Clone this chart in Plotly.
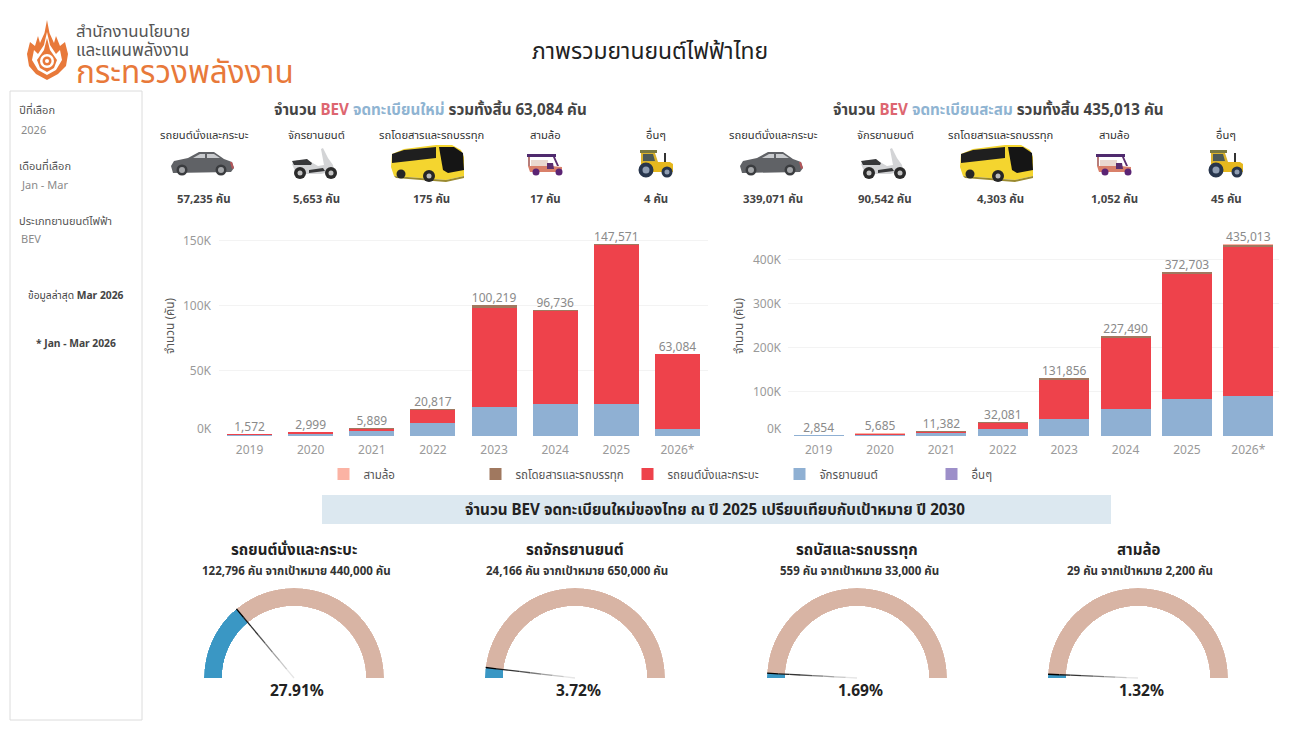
import math
import plotly.graph_objects as go

W, H = 1299, 730
FONT = "Noto Sans, Noto Sans Thai, sans-serif"

years = ["2019", "2020", "2021", "2022", "2023", "2024", "2025", "2026*"]
series_names = ["อื่นๆ", "จักรยานยนต์", "รถยนต์นั่งและกระบะ", "รถโดยสารและรถบรรทุก", "สามล้อ"]
series_colors = ["#9D8FC9", "#8FB0D3", "#EE424B", "#A0785F", "#FBB3A4"]
legend_ranks = [5, 4, 3, 2, 1]

new_other = [2, 1, 2, 2, 4, 3, 21, 4]
new_moto = [900, 1700, 3600, 10200, 22000, 24800, 24166, 5653]
new_car = [500, 1150, 1950, 10100, 76200, 71300, 122796, 57235]
new_bus = [170, 140, 320, 500, 2000, 620, 559, 175]
new_tuk = [0, 8, 17, 15, 15, 13, 29, 17]
new_total = [1572, 2999, 5889, 20817, 100219, 96736, 147571, 63084]

cum_other = [4, 5, 12, 10, 15, 20, 41, 45]
cum_moto = [1200, 2900, 6500, 17000, 38000, 60700, 84889, 90542]
cum_car = [1100, 1900, 3400, 13071, 89891, 162195, 282610, 339071]
cum_bus = [250, 400, 700, 1100, 3000, 3569, 4128, 4303]
cum_tuk = [300, 480, 770, 900, 950, 1006, 1035, 1052]
cum_total = [2854, 5685, 11382, 32081, 131856, 227490, 372703, 435013]

gauge_titles = ["รถยนต์นั่งและกระบะ", "รถจักรยานยนต์", "รถบัสและรถบรรทุก", "สามล้อ"]
gauge_subs = ["122,796 คัน จากเป้าหมาย 440,000 คัน", "24,166 คัน จากเป้าหมาย 650,000 คัน",
              "559 คัน จากเป้าหมาย 33,000 คัน", "29 คัน จากเป้าหมาย 2,200 คัน"]
gauge_pct = [27.91, 3.72, 1.69, 1.32]
gauge_cx = [294, 575, 857, 1138]

kpi_names = ["รถยนต์นั่งและกระบะ", "จักรยานยนต์", "รถโดยสารและรถบรรทุก", "สามล้อ", "อื่นๆ"]
kpi_new = ["57,235 คัน", "5,653 คัน", "175 คัน", "17 คัน", "4 คัน"]
kpi_cum = ["339,071 คัน", "90,542 คัน", "4,303 คัน", "1,052 คัน", "45 คัน"]
kpi_x_new = [204, 316, 431, 545, 656]
kpi_x_cum = [773, 885, 1000, 1114, 1226]


def px(x): return x / W
def py(y): return 1 - y / H


fig = go.Figure()
for name, color, rank, nv, cv in zip(series_names, series_colors, legend_ranks,
                                     [new_other, new_moto, new_car, new_bus, new_tuk],
                                     [cum_other, cum_moto, cum_car, cum_bus, cum_tuk]):
    fig.add_bar(x=years, y=nv, name=name, marker_color=color, marker_line_width=0, width=0.735,
                legendrank=rank, xaxis="x", yaxis="y", hoverinfo="skip")
    fig.add_bar(x=years, y=cv, name=name, marker_color=color, marker_line_width=0, width=0.814,
                showlegend=False, xaxis="x2", yaxis="y2", hoverinfo="skip")

for xa, ya, tot in [("x", "y", new_total), ("x2", "y2", cum_total)]:
    fig.add_scatter(x=years, y=tot, mode="text", text=[f"{v:,}" for v in tot],
                    textposition="top center", textfont=dict(size=12, color="#8a8a8a", family=FONT),
                    showlegend=False, xaxis=xa, yaxis=ya, hoverinfo="skip", cliponaxis=False)

axis_common = dict(showline=False, zeroline=False, tickfont=dict(size=12, color="#9a9a9a", family=FONT),
                   fixedrange=True)
layout = dict(
    width=W, height=H, margin=dict(l=0, r=0, t=0, b=0, autoexpand=False), paper_bgcolor="white", plot_bgcolor="white",
    barmode="stack", font=dict(family=FONT), hovermode=False,
    xaxis=dict(domain=[px(219), px(708)], anchor="y", showgrid=False, ticks="", ticklabelstandoff=5, **axis_common),
    xaxis2=dict(domain=[px(788), px(1279)], anchor="y2", showgrid=False, ticks="", ticklabelstandoff=5, **axis_common),
    yaxis=dict(domain=[py(436), py(220)], anchor="x", range=[0, 165800], tickvals=[50000, 100000, 150000],
               ticktext=["50K", "100K", "150K"], showgrid=True, gridcolor="#f3f3f3", ticklen=0,
               ticklabelstandoff=7, **axis_common),
    yaxis2=dict(domain=[py(436), py(220)], anchor="x2", range=[0, 490000],
                tickvals=[100000, 200000, 300000, 400000], ticktext=["100K", "200K", "300K", "400K"],
                showgrid=True, gridcolor="#f3f3f3", ticklen=0, ticklabelstandoff=6, **axis_common),
    legend=dict(orientation="h", x=px(323.5), y=py(474), yanchor="middle", xanchor="left", traceorder="normal",
                entrywidth=107, entrywidthmode="pixels", itemclick=False, itemdoubleclick=False,
                font=dict(size=11.5, color="#555555", family=FONT), bgcolor="rgba(0,0,0,0)"),
)

ann = []
shapes = []


def T(x, y, s, size=12, color="#333333", anchor="center", **kw):
    ann.append(dict(xref="paper", yref="paper", x=px(x), y=py(y), text=s, showarrow=False,
                    xanchor=anchor, yanchor="middle", font=dict(size=size, color=color, family=FONT), **kw))


T(214, 428, "0K", 12, "#9a9a9a", "right")
T(784, 428, "0K", 12, "#9a9a9a", "right")
T(169, 326, "จำนวน (คัน)", 11.8, "#555555", textangle=-90)
T(738, 326, "จำนวน (คัน)", 11.8, "#555555", textangle=-90)

T(650, 51, "ภาพรวมยานยนต์ไฟฟ้าไทย", 22.9, "#222222")
T(74, 31, "สำนักงานนโยบาย", 16.7, "#555555", "left")
T(74, 49, "และแผนพลังงาน", 17, "#555555", "left")
T(74, 71, "กระทรวงพลังงาน", 31.5, "#E8793A", "left")

shapes.append(dict(type="rect", xref="paper", yref="paper", x0=px(10), x1=px(142), y0=py(91), y1=py(720),
                   line=dict(color="#dcdcdc", width=1), fillcolor="white", layer="below"))
T(17, 110, "ปีที่เลือก", 11, "#555555", "left")
T(19, 129, "2026", 11, "#8a8a8a", "left")
T(17, 165, "เดือนที่เลือก", 11, "#555555", "left")
T(19, 184, "Jan - Mar", 11, "#8a8a8a", "left")
T(17, 220, "ประเภทยานยนต์ไฟฟ้า", 11, "#555555", "left")
T(19, 239, "BEV", 11, "#8a8a8a", "left")
T(76, 295, "ข้อมูลล่าสุด <b>Mar 2026</b>", 10.3, "#444444")
T(76, 343, "<b>* Jan - Mar 2026</b>", 10.3, "#444444")

RED, BLUE = "#DD6670", "#8FB4D2"
T(430, 109, f"<b>จำนวน <span style='color:{RED}'>BEV</span> <span style='color:{BLUE}'>จดทะเบียนใหม่</span> รวมทั้งสิ้น 63,084 คัน</b>", 15.2, "#444444")
T(998, 109, f"<b>จำนวน <span style='color:{RED}'>BEV</span> <span style='color:{BLUE}'>จดทะเบียนสะสม</span> รวมทั้งสิ้น 435,013 คัน</b>", 15.2, "#444444")
for xs, vals in [(kpi_x_new, kpi_new), (kpi_x_cum, kpi_cum)]:
    for x, n, v in zip(xs, kpi_names, vals):
        T(x, 134, n, 11.2, "#333333")
        T(x, 198, f"<b>{v}</b>", 11.4, "#444444")


def poly(points, fill, ox=0, oy=0):
    pts = [(a + ox, b + oy) for a, b in points]
    shapes.append(dict(type="path", xref="paper", yref="paper", line=dict(width=0), fillcolor=fill,
                       path="M" + " L".join(f"{px(a):.5f},{py(b):.5f}" for a, b in pts) + " Z"))


def circle(cx, cy, r, fill):
    shapes.append(dict(type="circle", xref="paper", yref="paper", x0=px(cx - r), x1=px(cx + r),
                       y0=py(cy - r), y1=py(cy + r), fillcolor=fill, line=dict(width=0)))


def car(ox, oy=164):
    poly([(-31, 2), (-28, -3), (-14, -6), (-3, -12), (12, -12), (22, -5), (30, -2), (32, 4), (29, 8), (-29, 9)], "#606266", ox, oy)
    poly([(30, -2), (32, 4), (30, 5), (28, -2)], "#b5565a", ox, oy)
    poly([(-9, -6), (-2, -10), (3, -10), (3, -6)], "#c9cbce", ox, oy)
    poly([(5, -10), (12, -10), (18, -6), (5, -6)], "#c9cbce", ox, oy)
    for w in (-20, 19):
        circle(ox + w, oy + 6, 5.5, "#3a3c3f")
        circle(ox + w, oy + 6, 3, "#a5a7aa")


def moto(ox, oy=164):
    poly([(-23, 0), (-18, -4), (-4, -2), (3, 2), (9, 1), (6, -15), (8, -16), (13, -6), (18, 1), (19, 7), (6, 10), (-10, 10), (-20, 7)], "#d3d4d6", ox, oy)
    poly([(-23, -3), (-8, -5), (-3, -1), (-4, 1), (-21, 1)], "#37383a", ox, oy)
    poly([(-6, 6), (8, 4), (10, 7), (-6, 9)], "#37383a", ox, oy)
    circle(ox - 15, oy + 9, 6, "#2b2b2b")
    circle(ox + 16, oy + 9, 6, "#2b2b2b")
    circle(ox - 15, oy + 9, 2.5, "#c4c4c4")
    circle(ox + 16, oy + 9, 2.5, "#c4c4c4")


def bus(ox, oy=163):
    poly([(-36, -9), (-24, -14), (8, -18), (24, -18), (33, -13), (36, -6), (36, 13), (18, 17), (-34, 13), (-37, 4)], "#F4D52F", ox, oy)
    poly([(-36, -9), (-24, -13), (8, -16), (8, -5), (-36, 0)], "#1f1f1f", ox, oy)
    poly([(11, -16), (26, -16), (35, -10), (36, 7), (20, 10), (15, 7)], "#151515", ox, oy)
    poly([(-34, 13), (18, 17), (36, 13), (36, 15), (18, 19), (-32, 15)], "#9a8a30", ox, oy)
    circle(ox - 27, oy + 11, 4.5, "#262626")
    circle(ox + 1, oy + 13, 6, "#262626")
    circle(ox + 1, oy + 13, 2.5, "#bbbbbb")


def tuk(ox, oy=164):
    poly([(-18, -10), (11, -10), (11, -7), (-18, -7)], "#4F2A6E", ox, oy)
    poly([(-17, -7), (-15, -7), (-15, 2), (-17, 2)], "#B77D7A", ox, oy)
    poly([(8, -7), (10, -7), (14, 2), (12, 2)], "#5b2d6e", ox, oy)
    poly([(-14, -4), (3, -4), (3, 2), (-14, 2)], "#EAD8D0", ox, oy)
    poly([(-17, 2), (6, 2), (17, 3), (17, 8), (-15, 8)], "#D9806A", ox, oy)
    poly([(2, -1), (8, -1), (9, 5), (2, 5)], "#5b2d6e", ox, oy)
    circle(ox - 9, oy + 8, 3.5, "#5b2474")
    circle(ox + 14, oy + 8, 3.5, "#5b2474")


def tractor(ox, oy=164):
    poly([(-16, -14), (1, -14), (1, -11), (-16, -11)], "#7b7a3f", ox, oy)
    poly([(-15, -11), (-1, -11), (2, -2), (-15, -2)], "#D9B22C", ox, oy)
    poly([(-13, -10), (-3, -10), (-1, -3), (-13, -3)], "#4c5a58", ox, oy)
    poly([(8, -11), (10, -11), (10, -2), (8, -2)], "#333333", ox, oy)
    poly([(-15, -2), (14, -2), (17, 0), (17, 8), (-15, 8)], "#E6B81E", ox, oy)
    circle(ox - 10, oy + 6, 7.5, "#27354c")
    circle(ox + 11, oy + 8, 5.5, "#27354c")
    circle(ox - 10, oy + 6, 3.5, "#8f9db2")
    circle(ox + 11, oy + 8, 2.5, "#8f9db2")


for xs in (kpi_x_new, kpi_x_cum):
    car(xs[0] - 2)
    moto(xs[1] - 1)
    bus(xs[2] - 3)
    tuk(xs[3])
    tractor(xs[4])

# flame logo
ORANGE = "#E8793A"
poly([(47, 20), (49.5, 33), (54, 43), (56, 36), (60, 46), (65, 42), (68, 54), (66, 66), (58, 74), (47, 80),
      (36, 74), (29, 66), (27, 54), (30, 42), (35, 46), (38, 36), (40, 43), (44.5, 33)], ORANGE)
poly([(47, 32), (50, 45), (56, 54), (60, 50), (62, 60), (56, 70), (47, 75), (38, 70), (32, 60), (34, 50), (38, 54), (44, 45)], "#ffffff")
poly([(47, 38), (50, 50), (57, 60), (54, 68), (47, 72), (40, 68), (37, 60), (44, 50)], ORANGE)
circle(47, 61, 7, "#ffffff")
circle(47, 61, 4.5, ORANGE)
circle(47, 61, 2, "#ffffff")

shapes.append(dict(type="rect", xref="paper", yref="paper", x0=px(322), x1=px(1111), y0=py(495), y1=py(524),
                   fillcolor="#DCE8F0", line=dict(width=0), layer="below"))
T(715, 509, "<b>จำนวน BEV จดทะเบียนใหม่ของไทย ณ ปี 2025 เปรียบเทียบกับเป้าหมาย ปี 2030</b>", 15.2, "#222222")

R_OUT = 90
polars = {}
shades = ["#000000", "#1a1a1a", "#333333", "#555555", "#7a7a7a", "#a0a0a0", "#c8c8c8", "#e6e6e6"]
for i, (pct, cx, title, sub) in enumerate(zip(gauge_pct, gauge_cx, gauge_titles, gauge_subs)):
    pid = "polar" if i == 0 else f"polar{i + 1}"
    polars[pid] = dict(
        domain=dict(x=[px(cx - R_OUT), px(cx + R_OUT)], y=[py(678), py(678 - R_OUT)]),
        sector=[0, 180], hole=0.8, bgcolor="rgba(0,0,0,0)",
        radialaxis=dict(visible=False, range=[0, 1]),
        angularaxis=dict(visible=False, direction="clockwise", rotation=180, thetaunit="degrees"),
    )
    th = pct * 1.8
    fig.add_barpolar(r=[1], theta=[(180 + th) / 2], width=[180 - th], marker_color="#D8B4A4",
                     marker_line_width=0, subplot=pid, showlegend=False, hoverinfo="skip")
    fig.add_barpolar(r=[1], theta=[th / 2], width=[th], marker_color="#3A97C4",
                     marker_line_width=0, subplot=pid, showlegend=False, hoverinfo="skip")
    a = math.radians(th)
    n = len(shades)
    for k, c in enumerate(shades):
        f0, f1 = 1 - k / n, 1 - (k + 1) / n
        x0, y0 = cx - R_OUT * f0 * math.cos(a), 678 - R_OUT * f0 * math.sin(a)
        x1, y1 = cx - R_OUT * f1 * math.cos(a), 678 - R_OUT * f1 * math.sin(a)
        shapes.append(dict(type="line", xref="paper", yref="paper", x0=px(x0), y0=py(y0), x1=px(x1), y1=py(y1),
                           line=dict(color=c, width=1.3)))
    T(cx, 549, f"<b>{title}</b>", 15.1, "#222222")
    T(cx + 2, 570, f"<b>{sub}</b>", 11.5, "#333333")
    T(cx + 3, 690, f"<b>{pct:.2f}%</b>", 15.5, "#222222")

layout.update(polars)
layout["annotations"] = ann
layout["shapes"] = shapes
fig.update_layout(**layout)
fig.write_html("out.html", config={"displayModeBar": False, "staticPlot": True},
               post_script="document.body.style.margin='0';document.body.style.overflow='hidden';")
